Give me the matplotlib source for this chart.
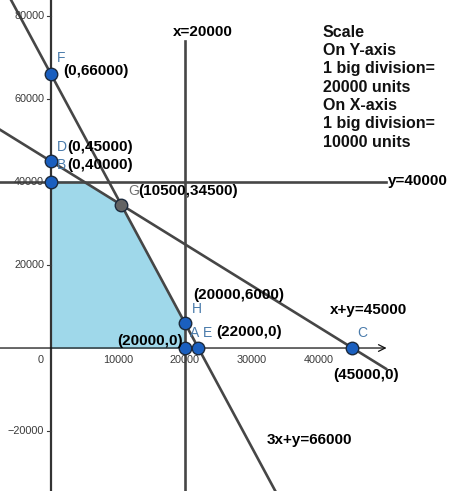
import numpy as np
import matplotlib.pyplot as plt

plt.rcParams['font.family'] = ['Liberation Sans', 'DejaVu Sans']

# feasible region corners
region_x = [0, 0, 5000, 10500, 20000, 20000]
region_y = [0, 40000, 40000, 34500, 6000, 0]

# labelled points
pt_names = ['F', 'D', 'B', 'G', 'H', 'A', 'E', 'C']
pt_x = [0, 0, 0, 10500, 20000, 20000, 22000, 45000]
pt_y = [66000, 45000, 40000, 34500, 6000, 0, 0, 0]

xticks = [10000, 20000, 30000, 40000]
yticks = [-20000, 20000, 40000, 60000, 80000]

fig = plt.figure(figsize=(4.54, 4.91), dpi=100)
ax = fig.add_axes([0, 0, 1, 1])
ax.set_xlim(-7600, 60150)
ax.set_ylim(-34450, 83850)

line_c = '#464646'
lw = 1.9

ax.fill(region_x, region_y, color='#9fd8ea', zorder=1)

# constraint lines
xx = np.array([-8000, 34000])
ax.plot(xx, 66000 - 3 * xx, color=line_c, lw=lw, zorder=3)
xx = np.array([-8000, 50000])
ax.plot(xx, 45000 - xx, color=line_c, lw=lw, zorder=3)
ax.plot(xx, [40000, 40000], color=line_c, lw=lw, zorder=3)
ax.plot([20000, 20000], [-36000, 74000], color=line_c, lw=lw, zorder=3)

# axes
ax.plot([0, 0], [-36000, 90000], color='#333333', lw=1.6, zorder=2)
ax.annotate('', xy=(50500, 0), xytext=(-8000, 0),
            arrowprops=dict(arrowstyle='->', color='#111111', lw=0.9,
                            mutation_scale=12), zorder=2)

for s in ax.spines.values():
    s.set_visible(False)
ax.set_xticks([])
ax.set_yticks([])

tick_c = '#3a3a3a'
for t in yticks:
    ax.plot([-600, 0], [t, t], color=tick_c, lw=0.8, zorder=2)
    ax.text(-1000, t, str(t).replace('-', '\u2212'), ha='right', va='center',
            fontsize=7.8, color=tick_c)
for t in xticks:
    ax.text(t, -2900, str(t), ha='center', va='center', fontsize=7.8, color=tick_c)
ax.text(-1500, -2900, '0', ha='center', va='center', fontsize=7.8, color=tick_c)

# points
for n, x, y in zip(pt_names, pt_x, pt_y):
    fc = '#636363' if n == 'G' else '#1a5fbf'
    ax.plot(x, y, 'o', ms=9, mfc=fc, mec='#1c2a3c', mew=1.0, zorder=5)

letter_pos = {'F': (900, 69900), 'D': (900, 48400), 'B': (900, 44100),
              'G': (11500, 37800), 'H': (21000, 9400), 'A': (20750, 3600),
              'E': (22700, 3600), 'C': (45700, 3600)}
for n, (x, y) in letter_pos.items():
    c = '#707070' if n == 'G' else '#4a7bab'
    ax.text(x, y, n, ha='left', va='center', fontsize=10, color=c, zorder=6)

bold = dict(fontsize=11, fontweight='bold', color='black', zorder=6, va='center')
ax.text(1800, 66700, '(0,66000)', ha='left', **bold)
ax.text(2400, 48400, '(0,45000)', ha='left', **bold)
ax.text(2400, 44100, '(0,40000)', ha='left', **bold)
ax.text(13000, 37800, '(10500,34500)', ha='left', **bold)
ax.text(21200, 12800, '(20000,6000)', ha='left', **bold)
ax.text(24600, 3900, '(22000,0)', ha='left', **bold)
ax.text(19700, 1700, '(20000,0)', ha='right', **bold)
ax.text(42100, -6500, '(45000,0)', ha='left', **bold)
ax.text(41600, 9150, 'x+y=45000', ha='left', **bold)
ax.text(32200, -22200, '3x+y=66000', ha='left', **bold)
ax.text(18200, 76100, 'x=20000', ha='left', **bold)
ax.text(50300, 40300, 'y=40000', ha='left', **bold)

ax.text(40600, 77900, 'Scale\nOn Y-axis\n1 big division=\n20000 units\nOn X-axis\n1 big division=\n10000 units',
        ha='left', va='top', fontsize=11.5, fontweight='bold', color='#111111',
        linespacing=1.28, zorder=6)

fig.savefig('out.png', dpi=100)
